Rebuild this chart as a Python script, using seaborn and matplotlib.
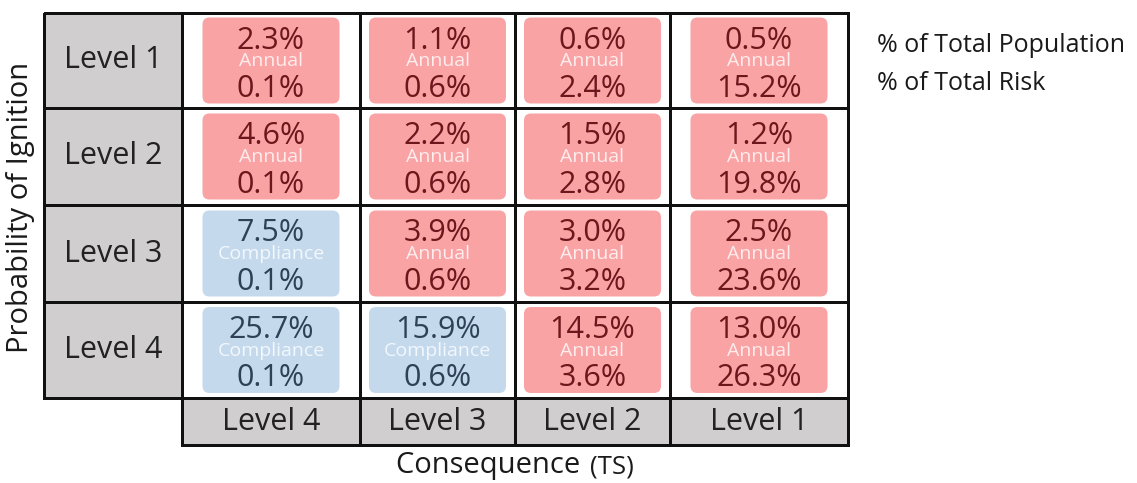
import numpy as np
import matplotlib
matplotlib.use("Agg")
import matplotlib.pyplot as plt
import seaborn as sns
from matplotlib.colors import ListedColormap, to_rgba
from matplotlib.patches import FancyBboxPatch

# ---------------- data ----------------
prob_levels = ["Level 1", "Level 2", "Level 3", "Level 4"]      # rows (Probability of Ignition)
cons_levels = ["Level 4", "Level 3", "Level 2", "Level 1"]      # columns (Consequence)
pop_pct = [[2.3, 1.1, 0.6, 0.5],
           [4.6, 2.2, 1.5, 1.2],
           [7.5, 3.9, 3.0, 2.5],
           [25.7, 15.9, 14.5, 13.0]]
risk_pct = [[0.1, 0.6, 2.4, 15.2],
            [0.1, 0.6, 2.8, 19.8],
            [0.1, 0.6, 3.2, 23.6],
            [0.1, 0.6, 3.6, 26.3]]
program = [["Annual", "Annual", "Annual", "Annual"],
           ["Annual", "Annual", "Annual", "Annual"],
           ["Compliance", "Annual", "Annual", "Annual"],
           ["Compliance", "Compliance", "Annual", "Annual"]]
legend_lines = ["% of Total Population", "% of Total Risk"]
y_title = "Probability of Ignition"
x_title = "Consequence"
x_title_unit = "(TS)"

# ---------------- style ----------------
sns.set_theme(style="white")
plt.rcParams['font.family'] = ['Open Sans', 'DejaVu Sans']

styles = {
    "Annual": dict(box="#F9A3A5", text="#6B171B", label="#FFEDED"),
    "Compliance": dict(box="#C5D9ED", text="#2E4156", label="#F2F7FC"),
}
header_grey = "#D0CECF"
line_col = "#111111"

W, H = 1137, 483
fig = plt.figure(figsize=(W / 100, H / 100), dpi=100)
fig.patch.set_facecolor("white")

# layout (pixels)
col_w = [138, 178, 155, 155, 178]
row_h = [95, 97, 97, 96, 47]
left, top = 44, 13
ax = fig.add_axes([left / W, 1 - (top + sum(row_h)) / H, sum(col_w) / W, sum(row_h) / H])

n = len(prob_levels)
grid = np.zeros((n + 1, n + 1))
grid[:n, 0] = 1
grid[n, 1:] = 1
mask = np.zeros_like(grid, dtype=bool)
mask[n, 0] = True
sns.heatmap(grid, mask=mask, cmap=ListedColormap(["white", header_grey]), vmin=0, vmax=1,
            cbar=False, linewidths=2.0, linecolor=line_col,
            xticklabels=False, yticklabels=False, ax=ax)
mesh = ax.collections[0]
mesh.set_clip_on(False)
ec = np.tile(to_rgba(line_col), (mask.size, 1))
ec[mask.ravel()] = (0, 0, 0, 0)
mesh.set_edgecolor(ec)

xe = np.concatenate([[0], np.cumsum(col_w)]) / sum(col_w)
ye = np.concatenate([[0], np.cumsum(row_h)]) / sum(row_h)
idx = np.arange(n + 2)
ax.set_xscale("function", functions=(lambda v: np.interp(v, idx, xe), lambda u: np.interp(u, xe, idx)))
ax.set_yscale("function", functions=(lambda v: np.interp(v, idx, ye), lambda u: np.interp(u, ye, idx)))
ax.set_xlim(0, n + 1)
ax.set_ylim(n + 1, 0)
ax.set_xticks([])
ax.set_yticks([])
ax.set_xlabel("")
ax.set_ylabel("")

box_w, box_h, rad = 137, 86, 7
val_fs, lab_fs, head_fs = 22, 14, 22
for i in range(n):
    for j in range(n):
        st = styles[program[i][j]]
        cw, rh = col_w[j + 1], row_h[i]
        bw, bh = box_w / cw, box_h / rh
        cx, cy = j + 1.5, i + 0.5
        p = FancyBboxPatch((cx - bw / 2, cy - bh / 2), bw, bh,
                           boxstyle=f"round,pad=0,rounding_size={rad / cw}",
                           mutation_aspect=cw / rh,
                           facecolor=st["box"], edgecolor="none", zorder=3)
        ax.add_patch(p)
        ax.text(cx, i + 0.29, f"{pop_pct[i][j]:.1f}%", ha="center", va="center",
                fontsize=val_fs, color=st["text"], zorder=4)
        ax.text(cx, i + 0.51, program[i][j], ha="center", va="center",
                fontsize=lab_fs, color=st["label"], zorder=5)
        ax.text(cx, i + 0.795, f"{risk_pct[i][j]:.1f}%", ha="center", va="center",
                fontsize=val_fs, color=st["text"], zorder=4)

for i, lab in enumerate(prob_levels):
    ax.text(0.5, i + 0.5, lab, ha="center", va="center", fontsize=head_fs, color="#222222", zorder=4)
for j, lab in enumerate(cons_levels):
    ax.text(j + 1.5, n + 0.5, lab, ha="center", va="center", fontsize=head_fs, color="#222222", zorder=4)

# legend text on the right
for k, line in enumerate(legend_lines):
    fig.text(877 / W, 1 - (46 + 38 * k) / H, line, ha="left", va="center",
             fontsize=18, color="#1a1a1a")

# axis titles
fig.text(21 / W, 1 - 207 / H, y_title, rotation=90, ha="center", va="center",
         fontsize=21, color="#1a1a1a")
fig.text(588 / W, 1 - 466 / H, x_title + " ", ha="right", va="center", fontsize=21, color="#1a1a1a")
fig.text(590 / W, 1 - 467 / H, x_title_unit, ha="left", va="center", fontsize=18.5, color="#1a1a1a")

fig.savefig("out.png", dpi=100, facecolor="white")
